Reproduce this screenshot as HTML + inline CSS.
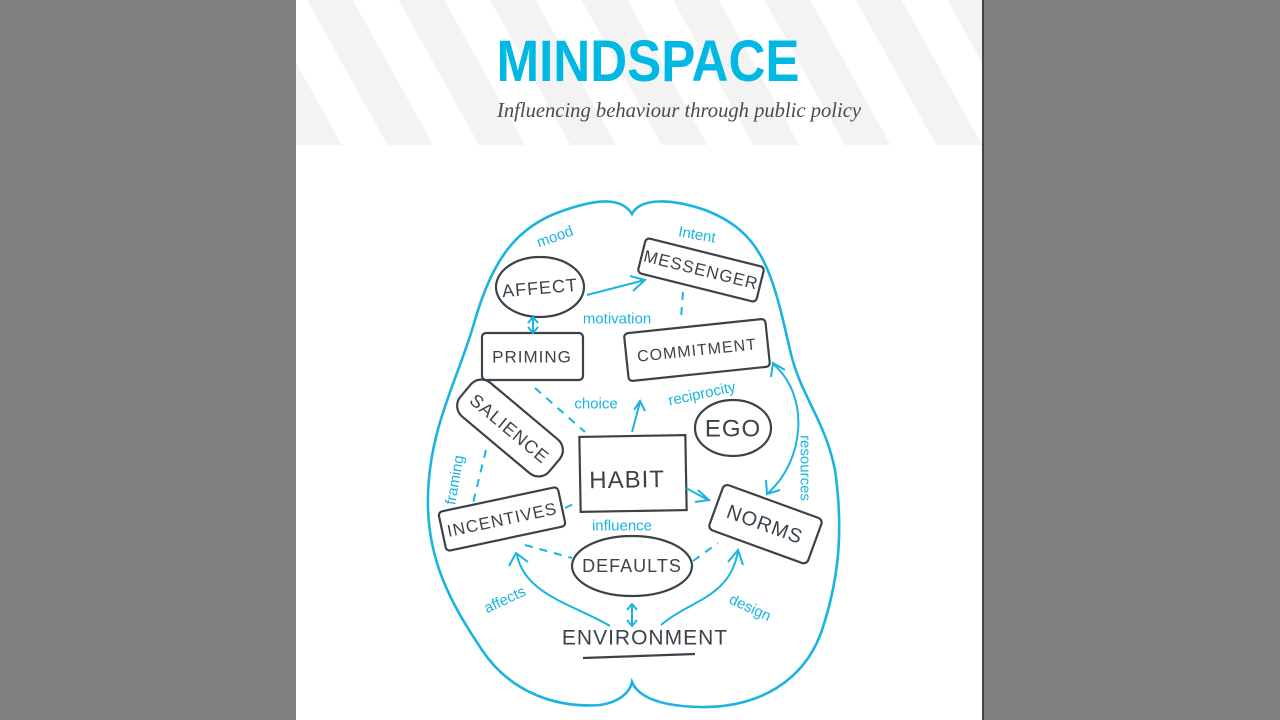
<!DOCTYPE html>
<html><head><meta charset="utf-8"><style>
html,body{margin:0;padding:0;width:1280px;height:720px;background:#808080;overflow:hidden}
#page{position:absolute;left:296px;top:0;width:686px;height:720px;background:#fff;border-right:2px solid #444}
#hdr{position:absolute;left:0;top:0;width:686px;height:145px;background:repeating-linear-gradient(61deg,#f3f3f3 0 40px,#fff 40px 80px)}
svg{position:absolute;left:0;top:0}
.n{fill:none;stroke:#3b434a;stroke-width:2.2}
.t{font-family:"Liberation Sans",sans-serif;fill:#3b434a;font-size:18px;text-anchor:middle;dominant-baseline:central;letter-spacing:1px}
.c{font-family:"Liberation Sans",sans-serif;fill:#19b4e0;font-size:15px;text-anchor:middle;dominant-baseline:central}
.a{fill:none;stroke:#19b4e0;stroke-width:2}
.d{fill:none;stroke:#19b4e0;stroke-width:2;stroke-dasharray:8 7}
</style></head><body>
<div id="page"><div id="hdr"></div></div>
<svg width="1280" height="720" viewBox="0 0 1280 720">
<text x="648" y="81" textLength="303" lengthAdjust="spacingAndGlyphs" style="font-family:'Liberation Sans',sans-serif;font-weight:bold;font-size:58px;fill:#00b8e4;text-anchor:middle">MINDSPACE</text>
<text x="679" y="117" textLength="364" lengthAdjust="spacingAndGlyphs" style="font-family:'Liberation Serif',serif;font-style:italic;font-size:21px;fill:#444c52;text-anchor:middle">Influencing behaviour through public policy</text>

<path class="a" style="stroke-width:2.6" d="M632,214 C622,198 600,198 565,210 C515,226 492,262 475,320 C458,380 430,425 428,495 C426,560 452,605 482,650 C512,695 560,708 600,705 C620,702 630,692 632,682 C636,692 650,706 700,707 C760,708 805,680 822,630 C842,570 842,520 835,470 C825,420 800,395 790,350 C772,270 762,232 705,210 C670,198 640,198 632,214 Z"/>

<ellipse class="n" cx="540" cy="287" rx="44" ry="30"/>
<text class="t" x="540" y="288" transform="rotate(-5 540 288)">AFFECT</text>
<g transform="rotate(14 701 270)"><rect class="n" x="640" y="252" width="122" height="36" rx="4"/><text class="t" x="701" y="270" style="font-size:17px">MESSENGER</text></g>
<rect class="n" x="482" y="333" width="101" height="47" rx="4"/>
<text class="t" x="532" y="357" style="font-size:17px">PRIMING</text>
<g transform="rotate(-6 697 350)"><rect class="n" x="626" y="326" width="142" height="48" rx="4"/><text class="t" x="697" y="351" style="font-size:16px">COMMITMENT</text></g>
<g transform="rotate(40 510 428)"><rect class="n" x="452" y="406" width="116" height="44" rx="14"/><text class="t" x="510" y="429">SALIENCE</text></g>
<ellipse class="n" cx="733" cy="428" rx="38" ry="28"/>
<text class="t" x="733" y="429" style="font-size:24px">EGO</text>
<g transform="rotate(-1 633 473)"><rect class="n" x="580" y="436" width="106" height="75"/><text class="t" x="627" y="480" style="font-size:24px">HABIT</text></g>
<g transform="rotate(-12 502 519)"><rect class="n" x="441" y="499" width="122" height="40" rx="4"/><text class="t" x="502" y="520" style="font-size:17px">INCENTIVES</text></g>
<g transform="rotate(20 765 524)"><rect class="n" x="713" y="500" width="105" height="48" rx="5"/><text class="t" x="765" y="525" style="font-size:20px">NORMS</text></g>
<ellipse class="n" cx="632" cy="566" rx="60" ry="30"/>
<text class="t" x="632" y="566" style="font-size:18px">DEFAULTS</text>
<text class="t" x="645" y="638" style="font-size:21px">ENVIRONMENT</text>
<path class="n" d="M583,658 L695,654"/>

<text class="c" x="555" y="237" transform="rotate(-20 555 237)">mood</text>
<text class="c" x="697" y="235" transform="rotate(10 697 235)">Intent</text>
<text class="c" x="617" y="319">motivation</text>
<text class="c" x="596" y="404">choice</text>
<text class="c" x="702" y="394" transform="rotate(-12 702 394)">reciprocity</text>
<text class="c" x="455" y="480" transform="rotate(-80 455 480)">framing</text>
<text class="c" x="805" y="468" transform="rotate(90 805 468)">resources</text>
<text class="c" x="622" y="526">influence</text>
<text class="c" x="505" y="600" transform="rotate(-25 505 600)">affects</text>
<text class="c" x="750" y="608" transform="rotate(25 750 608)">design</text>

<path class="a" d="M587,295 L645,280 M630,276 L645,280 L633,291"/>
<path class="a" d="M533,318 L533,332 M528,323 L533,317 L538,323 M528,327 L533,333 L538,327"/>
<path class="d" d="M683,292 L681,318"/>
<path class="d" d="M535,388 L585,432"/>
<path class="a" d="M632,432 L640,402 M634,410 L640,401 L645,411"/>
<path class="a" d="M773,364 C810,395 805,460 768,493 M771,377 L773,363 L785,370 M766,480 L767,494 L780,490"/>
<path class="a" d="M686,488 L708,500 M698,490 L709,500 L695,502"/>
<path class="d" d="M486,450 L473,503"/>
<path class="d" d="M565,508 L578,502"/>
<path class="d" d="M525,545 L572,558"/>
<path class="d" d="M693,561 L718,543"/>
<path class="a" d="M610,626 C575,605 525,595 517,555 M509,566 L516,553 L528,562"/>
<path class="a" d="M661,625 C690,600 730,598 738,551 M728,562 L738,550 L743,565"/>
<path class="a" d="M632,604 L632,626 M627,610 L632,604 L637,610 M627,620 L632,626 L637,620"/>
</svg>
</body></html>
